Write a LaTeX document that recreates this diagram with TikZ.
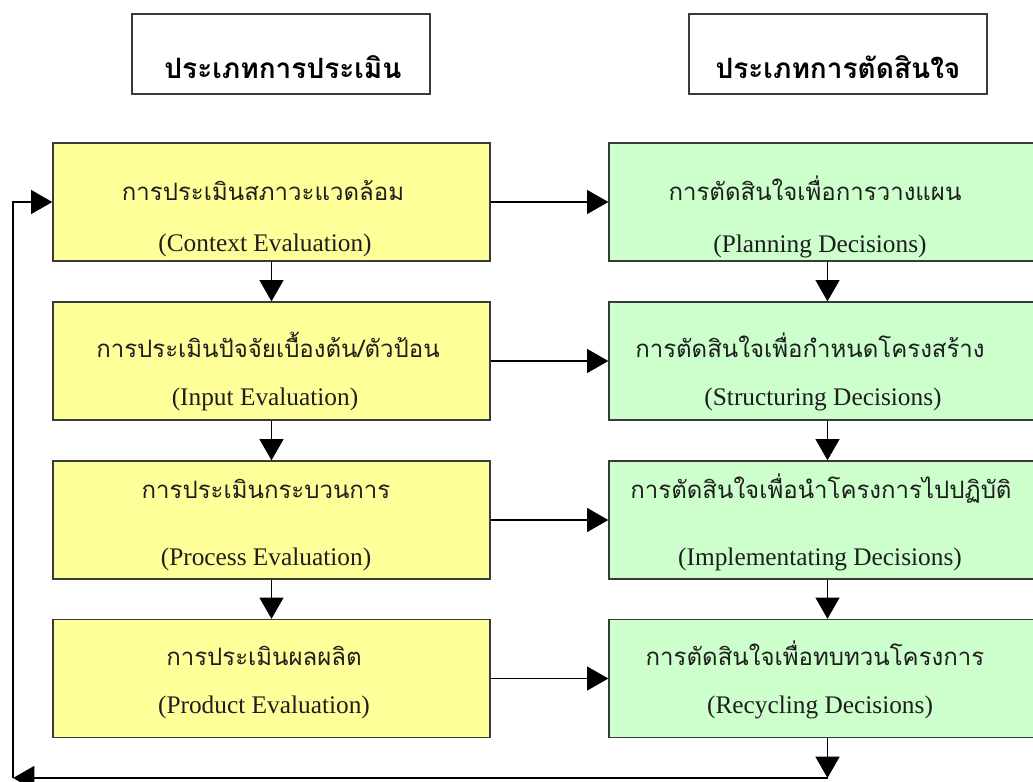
\documentclass[tikz,border=0pt]{standalone}
\usepackage{fontspec}
\setmainfont{Liberation Serif}
\newfontfamily\thaifont[Script=Thai]{Loma}
\usetikzlibrary{arrows.meta,calc}
\definecolor{boxyellow}{HTML}{FFFF99}
\definecolor{boxgreen}{HTML}{CCFFCC}
\definecolor{edgegray}{HTML}{3A3A3A}
\definecolor{txt}{HTML}{1E1E1E}
\begin{document}
\begin{tikzpicture}[x=0.75pt,y=-0.75pt,
  evalbox/.style={draw=edgegray,line width=1pt,fill=boxyellow,minimum width=327.75pt,minimum height=88.5pt,inner sep=0pt},
  decbox/.style={evalbox,fill=boxgreen},
  headbox/.style={draw=edgegray,line width=1pt,fill=white,minimum width=223.5pt,minimum height=60pt,inner sep=0pt},
  thtext/.style={font=\thaifont\fontsize{18}{21}\selectfont,text=txt,inner sep=0pt,anchor=base},
  entext/.style={font=\fontsize{19}{22}\selectfont,text=txt,inner sep=0pt,anchor=base},
  htext/.style={font=\thaifont\bfseries\fontsize{21}{24}\selectfont,text=black,inner sep=0pt,anchor=base},
  arr/.style={draw=black,line width=1.1pt,-{Triangle[length=16pt,width=18pt]}},
  ln/.style={draw=black,line width=1.1pt}]
\useasboundingbox (0,0) rectangle (1033,782);
\clip (0,0) rectangle (1033,782);
\fill[white] (0,0) rectangle (1033,782);
% headers
\node[headbox] (h1) at (281,54) {};
\node[headbox] (h2) at (838,54) {};
\node[htext] (h1t) at (283,78) {ประเภทการประเมิน};
\node[htext] (h2t) at (838,78) {ประเภทการตัดสินใจ};
% boxes
\node[evalbox] (y1) at (271.5,202) {};
\node[evalbox] (y2) at (271.5,361) {};
\node[evalbox] (y3) at (271.5,520) {};
\node[evalbox] (y4) at (271.5,678.5) {};
\node[decbox] (g1) at (827.5,202) {};
\node[decbox] (g2) at (827.5,361) {};
\node[decbox] (g3) at (827.5,520) {};
\node[decbox] (g4) at (827.5,678.5) {};
% texts
\node[thtext] (y1t) at (263,200) {การประเมินสภาวะแวดล้อม};
\node[entext] (y1e) at (265,251) {(Context Evaluation)};
\node[thtext] (y2t) at (268,357) {การประเมินปัจจัยเบื้องต้น/ตัวป้อน};
\node[entext] (y2e) at (265,405) {(Input Evaluation)};
\node[thtext] (y3t) at (266,498) {การประเมินกระบวนการ};
\node[entext] (y3e) at (266,565) {(Process Evaluation)};
\node[thtext] (y4t) at (264,665) {การประเมินผลผลิต};
\node[entext] (y4e) at (264,713) {(Product Evaluation)};
\node[thtext] (g1t) at (815,200) {การตัดสินใจเพื่อการวางแผน};
\node[entext] (g1e) at (820,252) {(Planning Decisions)};
\node[thtext] (g2t) at (810,357) {การตัดสินใจเพื่อกำหนดโครงสร้าง};
\node[entext] (g2e) at (823,405) {(Structuring Decisions)};
\node[thtext] (g3t) at (821,498) {การตัดสินใจเพื่อนำโครงการไปปฏิบัติ};
\node[entext] (g3e) at (820,565) {(Implementating Decisions)};
\node[thtext] (g4t) at (815,665) {การตัดสินใจเพื่อทบทวนโครงการ};
\node[entext] (g4e) at (820,713) {(Recycling Decisions)};
% arrows
\foreach \i in {1,2,3,4} {\draw[arr] (y\i.east) -- (g\i.west);}
\foreach \a/\b in {1/2,2/3,3/4} {
  \draw[arr] (y\a.south) -- (y\b.north);
  \draw[arr] (g\a.south) -- (g\b.north);
}
\coordinate (bl) at (13,778);
\coordinate (br) at (g4.south |- bl);
\draw[arr] (g4.south) -- (br);
\draw[arr] (br) -- (bl);
\draw[arr] (bl) -- (bl |- y1.west) -- (y1.west);
\end{tikzpicture}
\end{document}
